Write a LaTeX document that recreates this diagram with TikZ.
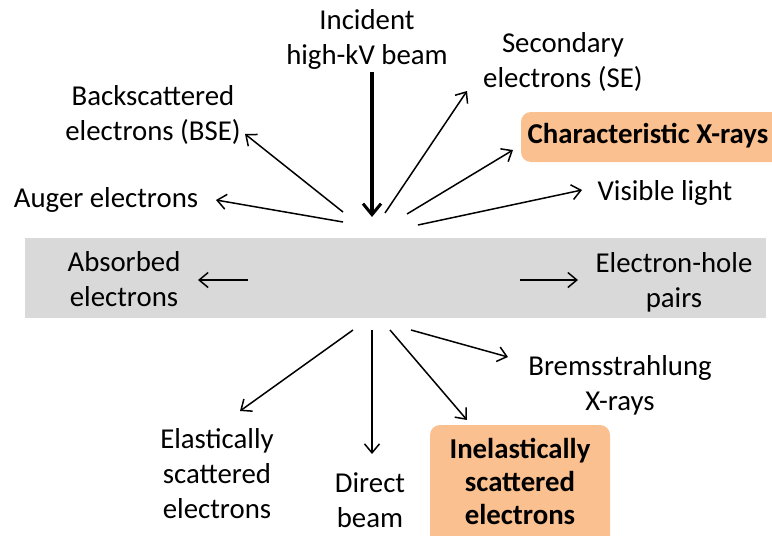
\documentclass[tikz,border=0pt]{standalone}
\usepackage{fontspec}
\setmainfont{Carlito}
\usetikzlibrary{arrows.meta}
\definecolor{peach}{HTML}{FAC090}
\definecolor{band}{HTML}{D9D9D9}
\begin{document}
\begin{tikzpicture}[x=1pt,y=-1pt,
  lbl/.style={inner sep=0pt, align=center, font=\fontsize{28.8}{35}\selectfont},
  blbl/.style={inner sep=0pt, align=center, font=\fontsize{28.8}{33}\selectfont\bfseries},
  bx/.style={fill=peach, rounded corners=10pt, inner sep=0pt},
  arr/.style={line width=1.5pt, -{Straight Barb[length=9pt,width=15pt,line width=1.5pt]}},
  bigarr/.style={line width=3.5pt, -{Straight Barb[length=11pt,width=18pt,line width=3pt]}}]
\useasboundingbox (0,0) rectangle (772,536);
\fill[white] (0,0) rectangle (772,536);
% gray band
\node[fill=band, minimum width=741pt, minimum height=80pt, inner sep=0pt] (band) at (395.5,278) {};
% orange boxes
\node[bx, minimum width=262pt, minimum height=50pt] (cxbox) at (652,137) {};
\node[bx, minimum width=180pt, minimum height=130pt] (inbox) at (520,490) {};
% labels
\node[lbl] (inc) at (367,39.5) {Incident\\high-kV beam};
\node[lbl] (bse) at (153,114.5) {Backscattered\\electrons (BSE)};
\node[lbl, anchor=base] (aug) at (106,207) {Auger electrons};
\node[lbl] (se) at (563,62) {Secondary\\electrons (SE)};
\node[blbl, anchor=base] (cx) at (648,143) {Characteristic X-rays};
\node[lbl, anchor=base] (vis) at (665,200) {Visible light};
\node[lbl] (abs) at (124,279.5) {Absorbed\\electrons};
\node[lbl] (eh) at (674,282) {Electron-hole\\pairs};
\node[lbl] (brem) at (620,385.5) {Bremsstrahlung\\X-rays};
\node[lbl] (ela) at (217,474) {Elastically\\scattered\\electrons};
\node[lbl] (dir) at (370,500) {Direct\\beam};
\node[blbl] (inel) at (520,481.5) {Inelastically\\scattered\\electrons};
% connector ends
\coordinate (incS) at (372,72);   \coordinate (incE) at (372,217);
\coordinate (bseS) at (343,212);  \coordinate (bseE) at (245,134);
\coordinate (augS) at (343,222);  \coordinate (augE) at (216,200);
\coordinate (seS) at (385,213);   \coordinate (seE) at (467,91);
\coordinate (cxS) at (407,214);   \coordinate (cxE) at (513,150);
\coordinate (visS) at (418,225);  \coordinate (visE) at (582,190);
\coordinate (absS) at (248,280);  \coordinate (absE) at (198,280);
\coordinate (ehS) at (520,280);   \coordinate (ehE) at (578,280);
\coordinate (elaS) at (353,330);  \coordinate (elaE) at (240,411);
\coordinate (dirS) at (372,330);  \coordinate (dirE) at (372,454);
\coordinate (inS) at (390,330);   \coordinate (inE) at (467,420);
\coordinate (brS) at (411,330);   \coordinate (brE) at (508,357);
% arrows
\draw[bigarr] (incS) -- (incE);
\draw[arr] (bseS) -- (bseE);
\draw[arr] (augS) -- (augE);
\draw[arr] (seS) -- (seE);
\draw[arr] (cxS) -- (cxE);
\draw[arr] (visS) -- (visE);
\draw[arr] (absS) -- (absE);
\draw[arr] (ehS) -- (ehE);
\draw[arr] (elaS) -- (elaE);
\draw[arr] (dirS) -- (dirE);
\draw[arr] (inS) -- (inE);
\draw[arr] (brS) -- (brE);
\end{tikzpicture}
\end{document}
